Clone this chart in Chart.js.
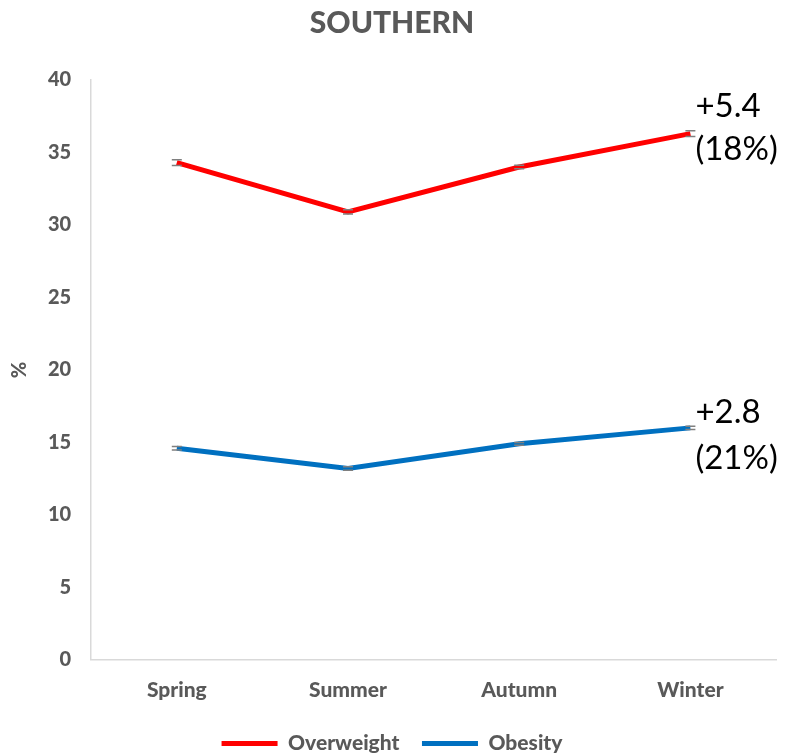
<!DOCTYPE html>
<html>
<head>
<meta charset="utf-8">
<script src="https://cdn.jsdelivr.net/npm/chart.js@4.4.1/dist/chart.umd.min.js"></script>
<style>
  html, body { margin: 0; padding: 0; background: #fff; }
  #wrap { width: 786px; height: 756px; }
</style>
</head>
<body>
<div id="wrap"><canvas id="seasonChart" width="786" height="756"></canvas></div>
<script>
const seasons = ['Spring', 'Summer', 'Autumn', 'Winter'];
const overweight = [34.3, 30.9, 34.0, 36.3];
const obesity = [14.6, 13.2, 14.9, 16.0];
const overweightErr = [0.2, 0.15, 0.12, 0.2];
const obesityErr = [0.12, 0.12, 0.1, 0.12];
const yTicks = [0, 5, 10, 15, 20, 25, 30, 35, 40];
const notes = [
    { series: 0, index: 3, lines: ['+5.4', '(18%)'], dy: [-27, 16] },
    { series: 1, index: 3, lines: ['+2.8', '(21%)'], dy: [-16, 30] }
];

const grey = '#595959';

// small grey error caps at each point
const errorBars = {
    id: 'errorBars',
    afterDatasetsDraw(chart) {
        const { ctx, scales: { x, y } } = chart;
        const errs = [overweightErr, obesityErr];
        ctx.save();
        ctx.strokeStyle = '#7f7f7f';
        ctx.lineWidth = 1.5;
        chart.data.datasets.forEach((ds, di) => {
            ds.data.forEach((v, i) => {
                const px = x.getPixelForValue(i);
                const top = y.getPixelForValue(v + errs[di][i]);
                const bot = y.getPixelForValue(v - errs[di][i]);
                ctx.beginPath();
                ctx.moveTo(px - 5, top); ctx.lineTo(px + 5, top);
                ctx.moveTo(px - 5, bot); ctx.lineTo(px + 5, bot);
                ctx.stroke();
            });
        });
        ctx.restore();
    }
};

const changeNotes = {
    id: 'changeNotes',
    afterDraw(chart) {
        const { ctx, scales: { x, y } } = chart;
        ctx.save();
        ctx.fillStyle = '#000';
        ctx.font = '33px Lato';
        ctx.textAlign = 'left';
        ctx.textBaseline = 'middle';
        notes.forEach(n => {
            const v = chart.data.datasets[n.series].data[n.index];
            const px = x.getPixelForValue(n.index) + 5;
            const py = y.getPixelForValue(v);
            n.lines.forEach((t, k) => ctx.fillText(t, px, py + n.dy[k]));
        });
        ctx.restore();
    }
};

const ctx = document.getElementById('seasonChart').getContext('2d');
const seasonChart = new Chart(ctx, {
    type: 'line',
    data: {
        labels: seasons,
        datasets: [{
            label: 'Overweight',
            data: overweight,
            borderColor: '#ff0000',
            backgroundColor: '#ff0000',
            borderWidth: 5,
            pointRadius: 0,
            tension: 0
        }, {
            label: 'Obesity',
            data: obesity,
            borderColor: '#0070c0',
            backgroundColor: '#0070c0',
            borderWidth: 5,
            pointRadius: 0,
            tension: 0
        }]
    },
    options: {
        responsive: false,
        animation: false,
        layout: { padding: { left: 8, right: 10, top: 0, bottom: -8 } },
        plugins: {
            title: {
                display: true,
                text: 'SOUTHERN',
                color: grey,
                font: { family: 'Lato', size: 30, weight: 900 },
                padding: { top: 5, bottom: 39 }
            },
            legend: {
                position: 'bottom',
                labels: {
                    color: grey,
                    font: { family: 'Lato', size: 21, weight: 900 },
                    boxWidth: 56,
                    boxHeight: 0,
                    padding: 12,
                    generateLabels(chart) {
                        return chart.data.datasets.map((ds, i) => ({
                            // en space keeps the gap between the two entries wide
                            text: ds.label + (i === 0 ? '\u2002' : ''),
                            fillStyle: ds.borderColor,
                            strokeStyle: ds.borderColor,
                            lineWidth: 5,
                            lineCap: 'round',
                            fontColor: grey,
                            datasetIndex: i
                        }));
                    }
                }
            },
            tooltip: { enabled: false }
        },
        scales: {
            x: {
                offset: true,
                grid: { display: false, drawTicks: false },
                border: { color: '#d9d9d9', width: 1.5 },
                ticks: {
                    color: grey,
                    padding: 18,
                    font: { family: 'Lato', size: 21, weight: 900 }
                }
            },
            y: {
                min: 0,
                max: 40,
                afterBuildTicks(axis) { axis.ticks = yTicks.map(v => ({ value: v })); },
                grid: { display: false, drawTicks: false },
                border: { color: '#d9d9d9', width: 1.5 },
                title: {
                    display: true,
                    text: '%',
                    color: grey,
                    font: { family: 'Lato', size: 20, weight: 900, lineHeight: 0.8 },
                    padding: { top: 4, bottom: 0 }
                },
                ticks: {
                    color: grey,
                    padding: 20,
                    font: { family: 'Lato', size: 20, weight: 900 }
                }
            }
        }
    },
    plugins: [errorBars, changeNotes]
});
</script>
</body>
</html>
